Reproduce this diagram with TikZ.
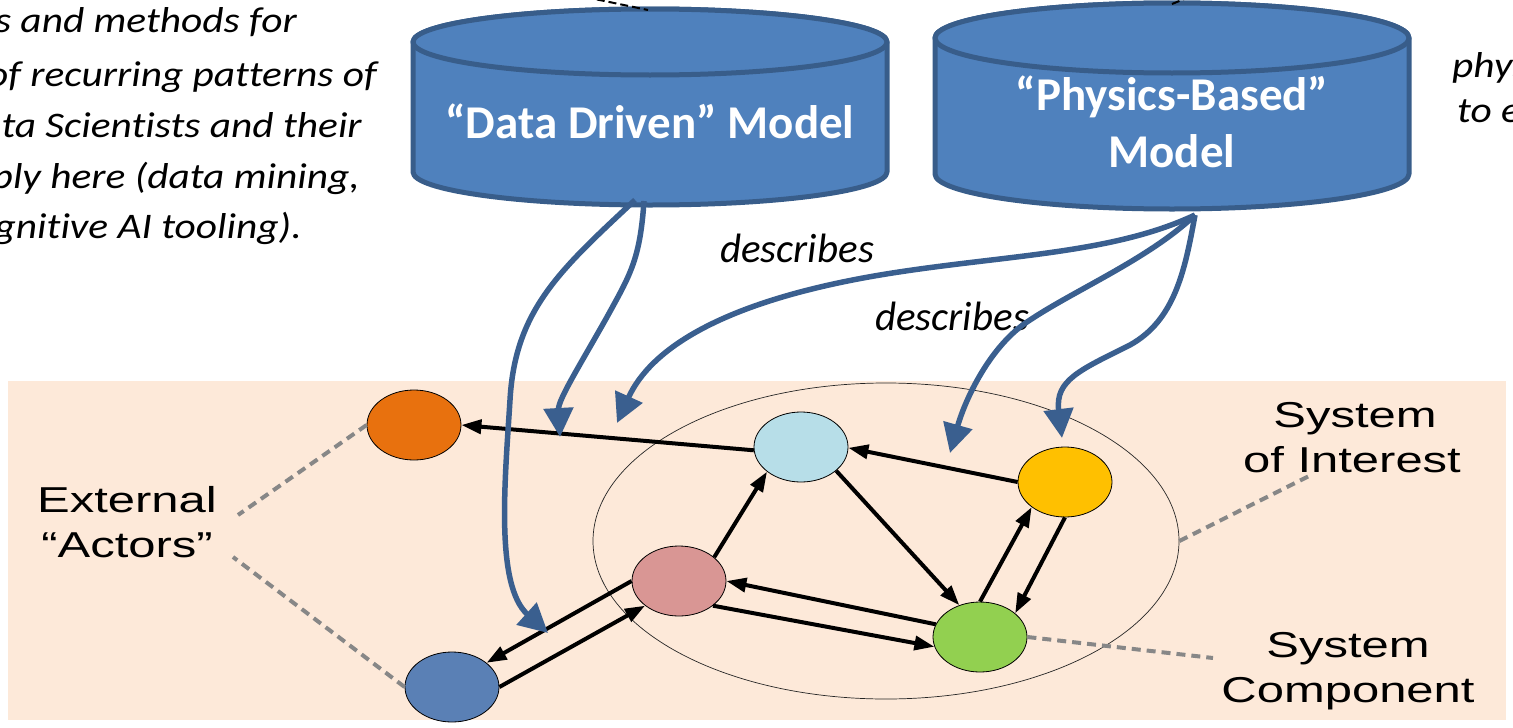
\documentclass[tikz,border=0pt]{standalone}
\usepackage{fontspec}
\setmainfont{Carlito}[Ligatures={TeX,NoCommon}]
\newfontfamily\calstretch[FakeStretch=1.15,Ligatures={TeX,NoCommon}]{Carlito}
\newfontfamily\arialw[FakeStretch=1.36]{Liberation Sans}
\usetikzlibrary{arrows.meta,shapes.geometric}
\definecolor{peach}{HTML}{FDE9D9}
\definecolor{cylfill}{HTML}{4F81BD}
\definecolor{cylline}{HTML}{385D8A}
\definecolor{modelarrow}{HTML}{3A5F8F}
\definecolor{orangeC}{HTML}{E8710E}
\definecolor{lblueC}{HTML}{B7DEE8}
\definecolor{pinkC}{HTML}{D99694}
\definecolor{dblueC}{HTML}{5A80B5}
\definecolor{yellowC}{HTML}{FFC000}
\definecolor{greenC}{HTML}{92D050}
\definecolor{calloutC}{HTML}{878787}
\begin{document}
\begin{tikzpicture}[x=1pt,y=-1pt,
  cylbody/.style={fill=cylfill,draw=cylline,line width=5pt,line join=round},
  cyllabel/.style={text=white,font=\fontsize{47}{57}\selectfont\bfseries,inner sep=0pt},
  actor/.style={ellipse,draw=black,line width=0.8pt,minimum width=94pt,minimum height=70pt,inner sep=0pt},
  soibox/.style={ellipse,draw=black!85,line width=0.7pt,minimum width=586pt,minimum height=316pt,inner sep=0pt},
  flow/.style={line width=4pt,-{Triangle[length=20pt,width=14pt]}},
  modelflow/.style={draw=modelarrow,line width=5.5pt,-{Triangle[length=29pt,width=29pt]}},
  callout/.style={draw=calloutC,line width=4pt,dash pattern=on 9pt off 6pt},
  topdash/.style={draw=black,line width=2pt,dash pattern=on 8pt off 4pt},
  note/.style={font=\calstretch\itshape\fontsize{36}{44}\selectfont,inner sep=0pt},
  verb/.style={font=\itshape\fontsize{41}{49}\selectfont,inner sep=0pt},
  plain/.style={font=\arialw\fontsize{36}{45}\selectfont,inner sep=0pt}]
\useasboundingbox (0,0) rectangle (1513,728);
\clip (0,0) rectangle (1513,728);
% background of the system area
\fill[peach] (8,381) rectangle (1506,720);

% --- cylinders ---
\path[cylbody] (413,42) -- (413,172) arc[start angle=180,end angle=0,x radius=237,y radius=33] -- (887,42) arc[start angle=0,end angle=-180,x radius=237,y radius=33] -- cycle;
\path[cylbody] (650,42) ellipse[x radius=237,y radius=33];
\node[cyllabel,anchor=base] (ddm) at (650,138) {“Data Driven” Model};

\path[cylbody] (935,38) -- (935,174) arc[start angle=180,end angle=0,x radius=237,y radius=35] -- (1409,38) arc[start angle=0,end angle=-180,x radius=237,y radius=35] -- cycle;
\path[cylbody] (1172,38) ellipse[x radius=237,y radius=35];
\node[cyllabel,anchor=base] (pbm1) at (1172,110) {“Physics-Based”};
\node[cyllabel,anchor=base] (pbm2) at (1172,167) {Model};

% connectors entering from outside the crop
\coordinate (ddtop) at (648,10);
\coordinate (ddout) at (585,-3);
\draw[topdash] (ddout) -- (ddtop);
\coordinate (pbtop) at (1172,4);
\coordinate (pbout) at (1194,-5);
\draw[topdash] (pbtop) -- (pbout);

% --- texts (cut by the crop) ---
\node[note,anchor=base east] (n1) at (297,32) {tools and methods for};
\node[note,anchor=base east] (n2) at (377,86) {of recurring patterns of};
\node[note,anchor=base east] (n3) at (362,137) {Data Scientists and their};
\node[note,anchor=base east] (n4) at (360,188) {apply here (data mining,};
\node[note,anchor=base east] (n5) at (302,238) {cognitive AI tooling).};
\node[note,anchor=base west] (r1) at (1452,77) {physics};
\node[note,anchor=base west] (r2) at (1457,122) {to explain};

\node[verb,anchor=base west] (desc1) at (720,262) {describes};
\node[verb,anchor=base west] (desc2) at (875,330) {describes};

% --- system of interest ---
\node[soibox] (soi) at (886,541) {};

\node[actor,fill=orangeC] (or) at (414,425) {};
\node[actor,fill=lblueC] (lb) at (801,447) {};
\node[actor,fill=pinkC] (pk) at (679,581) {};
\node[actor,fill=dblueC] (db) at (452,687) {};
\node[actor,fill=yellowC] (yl) at (1065,482) {};
\node[actor,fill=greenC] (gr) at (980,637) {};

\draw[flow] (lb.184) -- (or.0);
\draw[flow] (pk.34) -- (lb.216);
\draw[flow] (lb.326) -- (gr.123);
\draw[flow] (yl.180) -- (lb.359);
\draw[flow] (gr.90) -- (yl.217);
\draw[flow] (yl.270) -- (gr.34);
\draw[flow] (gr.164) -- (pk.0);
\draw[flow] (pk.324) -- (gr.192);
\draw[flow] (pk.180) -- (db.35);
\draw[flow] (db.0) -- (pk.216);

% --- labels of the system ---
\node[plain,anchor=base] (ext1) at (127,512) {External};
\node[plain,anchor=base] (ext2) at (127,557) {“Actors”};
\node[plain,anchor=base] (soi1) at (1355,427) {System};
\node[plain,anchor=base] (soi2) at (1352,472) {of Interest};
\node[plain,anchor=base] (cmp1) at (1348,657) {System};
\node[plain,anchor=base] (cmp2) at (1348,702) {Component};

\coordinate (extA) at (238,515);
\coordinate (extB) at (233,557);
\coordinate (soiL) at (1313,474);
\coordinate (cmpL) at (1213,658);
\draw[callout] (or.180) -- (extA);
\draw[callout] (db.180) -- (extB);
\draw[callout] (soi.east) -- (soiL);
\draw[callout] (gr.east) -- (cmpL);

% --- model arrows ---
\coordinate (ddA) at (635,200);
\coordinate (ddB) at (644,201);
\coordinate (pbC) at (1195,215);
\coordinate (tipA) at (548,633);
\coordinate (tipB) at (560,437);
\coordinate (tipC) at (617,423);
\coordinate (tipD) at (950,453);
\coordinate (tipE) at (1062,438);
\draw[modelflow] (ddA) .. controls (560,270) and (515,310) .. (510,400) .. controls (505,480) and (495,585) .. (tipA);
\draw[modelflow] (ddB) .. controls (640,260) and (630,275) .. (607,317) .. controls (580,365) and (558,400) .. (tipB);
\draw[modelflow] (pbC) .. controls (1110,255) and (1000,255) .. (880,275) .. controls (720,302) and (650,350) .. (tipC);
\draw[modelflow] (pbC) .. controls (1150,258) and (1075,290) .. (1030,320) .. controls (990,345) and (965,400) .. (tipD);
\draw[modelflow] (pbC) .. controls (1185,270) and (1175,320) .. (1130,345) .. controls (1080,370) and (1055,380) .. (tipE);
\end{tikzpicture}
\end{document}
